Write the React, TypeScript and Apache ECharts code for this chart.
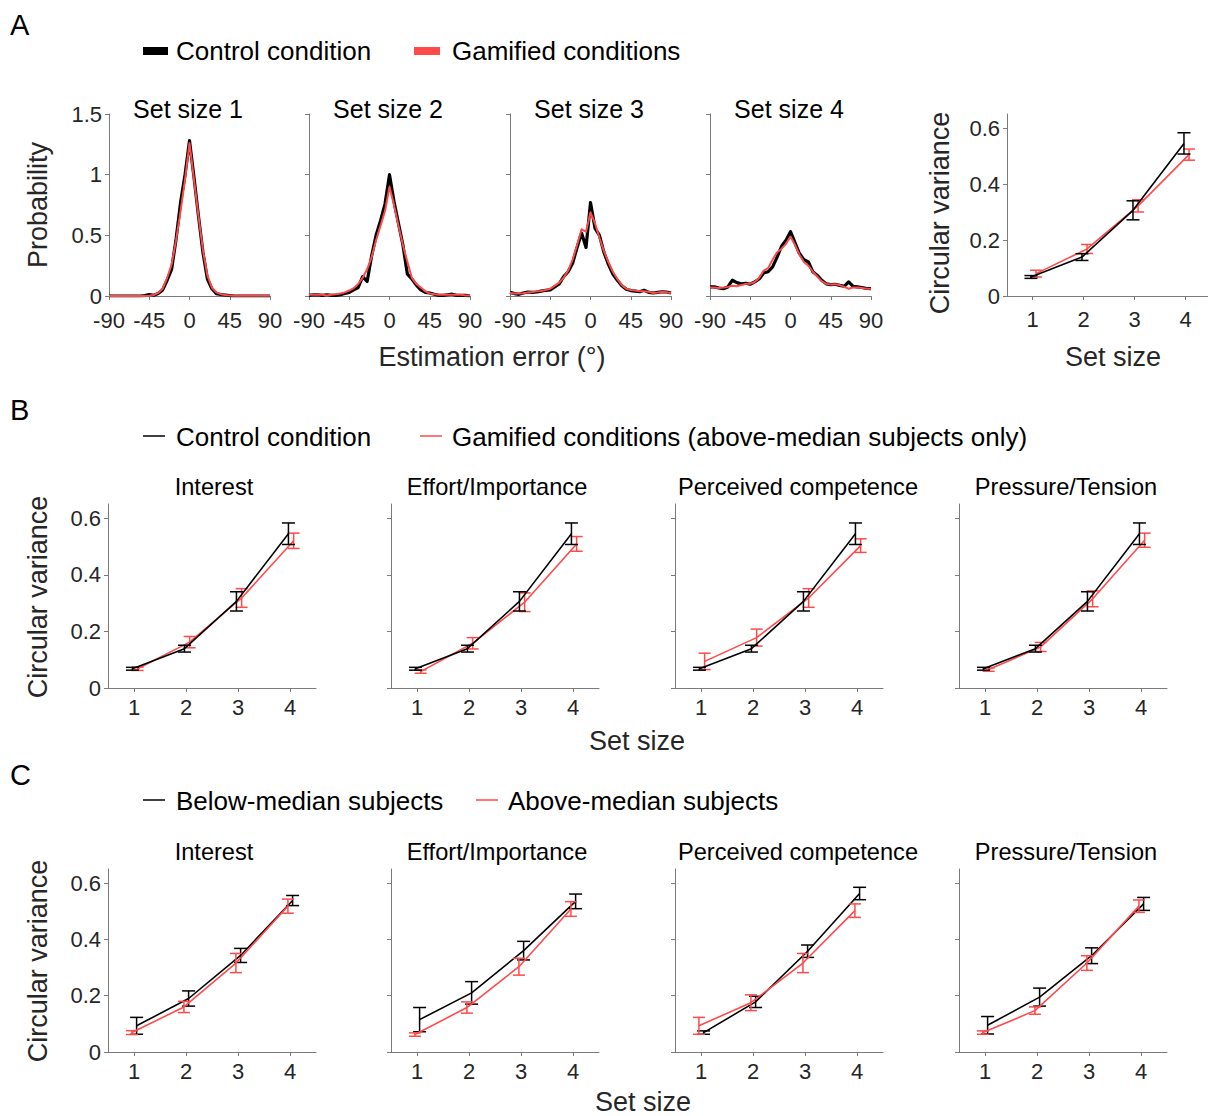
import React, { useEffect, useRef } from 'react';
import * as echarts from 'echarts';

// ---------------- DATA ----------------
const histX = [-90, -85, -80, -75, -70, -65, -60, -55, -50, -45, -40, -35, -30, -25, -20, -15, -10, -5, 0, 5, 10, 15, 20, 25, 30, 35, 40, 45, 50, 55, 60, 65, 70, 75, 80, 85, 90];
const histTicks = [-90, -45, 0, 45, 90];

const histControl1 = [0, 0, 0, 0, 0, 0, 0, 0, 0.003, 0.012, 0.006, 0.02, 0.05, 0.13, 0.22, 0.47, 0.77, 1.0, 1.28, 0.98, 0.66, 0.36, 0.14, 0.06, 0.02, 0.012, 0.008, 0.003, 0, 0, 0, 0, 0, 0, 0, 0, 0];
const histGamified1 = [0, 0, 0, 0, 0, 0, 0, 0, 0, 0.002, 0.008, 0.025, 0.06, 0.15, 0.26, 0.46, 0.7, 0.96, 1.26, 0.96, 0.66, 0.38, 0.17, 0.07, 0.03, 0.015, 0.008, 0.004, 0.003, 0.002, 0.002, 0.002, 0.002, 0.002, 0.003, 0.003, 0.002];

const histControl2 = [0.005, 0.01, 0.01, 0.005, 0.01, 0.005, 0.005, 0.01, 0.02, 0.03, 0.05, 0.07, 0.16, 0.12, 0.33, 0.5, 0.62, 0.76, 1.0, 0.78, 0.6, 0.42, 0.18, 0.14, 0.09, 0.05, 0.03, 0.025, 0.015, 0.005, 0.005, 0.01, 0.015, 0.005, 0.005, 0.005, 0];
const histGamified2 = [0.01, 0.01, 0.01, 0.01, 0.005, 0.01, 0.015, 0.02, 0.03, 0.045, 0.065, 0.1, 0.15, 0.22, 0.32, 0.46, 0.58, 0.7, 0.9, 0.75, 0.58, 0.42, 0.28, 0.15, 0.1, 0.07, 0.04, 0.02, 0.015, 0.01, 0.01, 0.01, 0.01, 0.01, 0.01, 0.005, 0.005];

const histControl3 = [0.03, 0.02, 0.014, 0.025, 0.033, 0.03, 0.033, 0.04, 0.047, 0.05, 0.075, 0.1, 0.16, 0.2, 0.27, 0.4, 0.52, 0.4, 0.77, 0.56, 0.5, 0.36, 0.26, 0.18, 0.13, 0.085, 0.055, 0.045, 0.04, 0.035, 0.047, 0.03, 0.025, 0.03, 0.035, 0.033, 0.025];
const histGamified3 = [0.025, 0.02, 0.02, 0.022, 0.03, 0.033, 0.04, 0.042, 0.05, 0.06, 0.085, 0.11, 0.15, 0.21, 0.3, 0.42, 0.55, 0.53, 0.69, 0.6, 0.48, 0.37, 0.28, 0.2, 0.14, 0.09, 0.06, 0.05, 0.045, 0.04, 0.04, 0.035, 0.025, 0.028, 0.032, 0.03, 0.025];

const histControl4 = [0.075, 0.075, 0.066, 0.06, 0.075, 0.13, 0.11, 0.1, 0.105, 0.097, 0.116, 0.14, 0.19, 0.2, 0.24, 0.32, 0.41, 0.46, 0.53, 0.44, 0.35, 0.3, 0.28, 0.2, 0.17, 0.13, 0.1, 0.094, 0.097, 0.088, 0.08, 0.116, 0.08, 0.075, 0.07, 0.062, 0.06];
const histGamified4 = [0.07, 0.07, 0.066, 0.07, 0.075, 0.085, 0.08, 0.09, 0.1, 0.1, 0.115, 0.15, 0.21, 0.23, 0.3, 0.36, 0.39, 0.43, 0.49, 0.42, 0.34, 0.28, 0.25, 0.2, 0.16, 0.12, 0.1, 0.095, 0.097, 0.09, 0.075, 0.06, 0.07, 0.07, 0.065, 0.06, 0.06];

const setSizes = [1, 2, 3, 4];
const varianceTicks = [0, 0.2, 0.4, 0.6];
const subscales = ['Interest', 'Effort/Importance', 'Perceived competence', 'Pressure/Tension'];

// Panel A (right) & B: control condition
const controlMean = [0.068, 0.139, 0.306, 0.545];
const controlErr = [0.005, 0.012, 0.034, 0.038];
// Panel A (right): gamified conditions
const gamifiedMean = [0.08, 0.168, 0.322, 0.505];
const gamifiedErr = [0.012, 0.016, 0.022, 0.02];

// Panel B: gamified, above-median subjects only
const bInterestMean = [0.068, 0.162, 0.318, 0.52];
const bInterestErr = [0.006, 0.02, 0.033, 0.027];
const bEffortMean = [0.058, 0.158, 0.303, 0.509];
const bEffortErr = [0.006, 0.02, 0.033, 0.026];
const bCompetenceMean = [0.094, 0.178, 0.318, 0.503];
const bCompetenceErr = [0.029, 0.03, 0.033, 0.024];
const bPressureMean = [0.065, 0.145, 0.315, 0.522];
const bPressureErr = [0.006, 0.016, 0.028, 0.025];

// Panel C: below-median vs above-median
const cInterestBelowMean = [0.093, 0.19, 0.343, 0.538];
const cInterestBelowErr = [0.03, 0.027, 0.025, 0.018];
const cInterestAboveMean = [0.069, 0.16, 0.316, 0.518];
const cInterestAboveErr = [0.007, 0.02, 0.034, 0.025];
const cEffortBelowMean = [0.115, 0.21, 0.36, 0.535];
const cEffortBelowErr = [0.043, 0.04, 0.033, 0.026];
const cEffortAboveMean = [0.062, 0.158, 0.303, 0.508];
const cEffortAboveErr = [0.006, 0.02, 0.03, 0.026];
const cCompetenceBelowMean = [0.069, 0.178, 0.358, 0.563];
const cCompetenceBelowErr = [0.006, 0.02, 0.022, 0.022];
const cCompetenceAboveMean = [0.093, 0.175, 0.316, 0.502];
const cCompetenceAboveErr = [0.03, 0.028, 0.034, 0.024];
const cPressureBelowMean = [0.095, 0.195, 0.342, 0.526];
const cPressureBelowErr = [0.031, 0.032, 0.028, 0.023];
const cPressureAboveMean = [0.069, 0.147, 0.316, 0.518];
const cPressureAboveErr = [0.006, 0.013, 0.026, 0.022];

// ---------------- STYLE ----------------
const FONT = '"Liberation Sans", Arial, Helvetica, sans-serif';
const AX = '#7a7a7a';
const TXT = '#262626';
const RED = '#ff4a4a';
const BLACK = '#000000';

function buildOption() {
  const grids: any[] = [];
  const xAxes: any[] = [];
  const yAxes: any[] = [];
  const series: any[] = [];
  const graphics: any[] = [];

  const axisLine = { show: true, onZero: false, lineStyle: { color: AX, width: 1 } };
  const tickStyle = { color: AX, width: 1 };

  const addGrid = (left: number, top: number, width: number, height: number) => {
    grids.push({ left, top, width, height, containLabel: false, outerBoundsMode: 'none' });
    return grids.length - 1;
  };

  const text = (s: string, x: number, y: number, size: number, fill: string, align = 'center', rot = 0) => {
    graphics.push({
      type: 'text', x, y, rotation: rot, silent: true,
      style: { text: s, fontSize: size, fontFamily: FONT, fill, align, verticalAlign: 'middle' },
    });
  };

  // ---- Panel A histograms ----
  const histLefts = [109, 309, 510, 710];
  const histCtrl = [histControl1, histControl2, histControl3, histControl4];
  const histGam = [histGamified1, histGamified2, histGamified3, histGamified4];
  histLefts.forEach((left, i) => {
    const g = addGrid(left, 114, 161, 182);
    xAxes.push({
      type: 'value', gridIndex: g, min: -90, max: 90, interval: 45,
      axisLine, axisTick: { show: true, length: 4, lineStyle: tickStyle },
      axisLabel: { show: true, fontSize: 22, color: TXT, fontFamily: FONT, margin: 13, customValues: histTicks },
      splitLine: { show: false },
    });
    yAxes.push({
      type: 'value', gridIndex: g, min: 0, max: 1.5, interval: 0.5,
      axisLine, axisTick: { show: true, length: 4, lineStyle: tickStyle },
      axisLabel: { show: i === 0, fontSize: 22, color: TXT, fontFamily: FONT, margin: 7 },
      splitLine: { show: false },
    });
    series.push({
      type: 'line', xAxisIndex: g, yAxisIndex: g, symbol: 'none', silent: true, z: 2,
      data: histX.map((x, k) => [x, histCtrl[i][k]]),
      lineStyle: { color: BLACK, width: 3.2, join: 'round' }, itemStyle: { color: BLACK },
    });
    series.push({
      type: 'line', xAxisIndex: g, yAxisIndex: g, symbol: 'none', silent: true, z: 3,
      data: histX.map((x, k) => [x, histGam[i][k]]),
      lineStyle: { color: RED, width: 2, join: 'round' }, itemStyle: { color: RED },
    });
    text('Set size ' + (i + 1), left + 79, 109, 25, BLACK);
  });

  // helpers for set-size plots
  const errRender = (color: string, hw: number) => (params: any, api: any) => {
    const x = api.value(0);
    const lo = api.coord([x, api.value(1)]);
    const hi = api.coord([x, api.value(2)]);
    const st = { stroke: color, lineWidth: 1.5 };
    return {
      type: 'group',
      children: [
        { type: 'line', shape: { x1: lo[0], y1: lo[1], x2: hi[0], y2: hi[1] }, style: st },
        { type: 'line', shape: { x1: lo[0] - hw, y1: lo[1], x2: lo[0] + hw, y2: lo[1] }, style: st },
        { type: 'line', shape: { x1: hi[0] - hw, y1: hi[1], x2: hi[0] + hw, y2: hi[1] }, style: st },
      ],
    };
  };

  const addSetSizeGrid = (left: number, top: number, width: number, height: number, showY: boolean, xMargin: number) => {
    const g = addGrid(left, top, width, height);
    xAxes.push({
      type: 'value', gridIndex: g, min: 0.5, max: 4.5,
      axisLine,
      axisTick: { show: true, length: 4, lineStyle: tickStyle, customValues: setSizes },
      axisLabel: { show: true, fontSize: 22, color: TXT, fontFamily: FONT, margin: xMargin, customValues: setSizes },
      splitLine: { show: false },
    });
    yAxes.push({
      type: 'value', gridIndex: g, min: 0, max: 0.65,
      axisLine,
      axisTick: { show: true, length: 4, lineStyle: tickStyle, customValues: varianceTicks },
      axisLabel: { show: showY, fontSize: 22, color: TXT, fontFamily: FONT, margin: 7, customValues: varianceTicks },
      splitLine: { show: false },
    });
    return g;
  };

  const addCurve = (g: number, mean: number[], err: number[], color: string, offset: number, z: number, hw: number) => {
    series.push({
      type: 'line', xAxisIndex: g, yAxisIndex: g, symbol: 'none', silent: true, z,
      data: setSizes.map((s, k) => [s + offset, mean[k]]),
      lineStyle: { color, width: 1.6 }, itemStyle: { color },
    });
    series.push({
      type: 'custom', xAxisIndex: g, yAxisIndex: g, silent: true, z,
      data: setSizes.map((s, k) => [s + offset, mean[k] - err[k], mean[k] + err[k]]),
      encode: { x: 0, y: [1, 2] },
      renderItem: errRender(color, hw),
    });
  };

  // ---- Panel A right ----
  {
    const g = addSetSizeGrid(1007, 114, 204, 182, true, 12);
    addCurve(g, gamifiedMean, gamifiedErr, RED, 0.07, 3, 6);
    addCurve(g, controlMean, controlErr, BLACK, -0.03, 4, 6.5);
  }

  // ---- Panel B ----
  const rowLefts = [108, 391, 675, 959];
  const titleCenters = [214, 497, 798, 1066];
  const bMeans = [bInterestMean, bEffortMean, bCompetenceMean, bPressureMean];
  const bErrs = [bInterestErr, bEffortErr, bCompetenceErr, bPressureErr];
  rowLefts.forEach((left, i) => {
    const g = addSetSizeGrid(left, 504, 208, 184, i === 0, 8);
    addCurve(g, bMeans[i], bErrs[i], RED, 0.07, 3, 6);
    addCurve(g, controlMean, controlErr, BLACK, -0.03, 4, 6.5);
    text(subscales[i], titleCenters[i], 487, 23.6, BLACK);
  });

  // ---- Panel C ----
  const cBelowM = [cInterestBelowMean, cEffortBelowMean, cCompetenceBelowMean, cPressureBelowMean];
  const cBelowE = [cInterestBelowErr, cEffortBelowErr, cCompetenceBelowErr, cPressureBelowErr];
  const cAboveM = [cInterestAboveMean, cEffortAboveMean, cCompetenceAboveMean, cPressureAboveMean];
  const cAboveE = [cInterestAboveErr, cEffortAboveErr, cCompetenceAboveErr, cPressureAboveErr];
  rowLefts.forEach((left, i) => {
    const g = addSetSizeGrid(left, 869, 208, 183, i === 0, 8);
    addCurve(g, cBelowM[i], cBelowE[i], BLACK, 0.05, 3, 6.5);
    addCurve(g, cAboveM[i], cAboveE[i], RED, -0.04, 4, 6);
    text(subscales[i], titleCenters[i], 852, 23.6, BLACK);
  });

  // ---- Panel letters ----
  text('A', 10, 25, 29, BLACK, 'left');
  text('B', 10, 410, 29, BLACK, 'left');
  text('C', 10, 775, 29, BLACK, 'left');

  // ---- Legends ----
  graphics.push({ type: 'rect', silent: true, shape: { x: 143, y: 47, width: 25, height: 8 }, style: { fill: BLACK } });
  text('Control condition', 176, 51, 26, BLACK, 'left');
  graphics.push({ type: 'rect', silent: true, shape: { x: 414, y: 47, width: 26, height: 8 }, style: { fill: RED } });
  text('Gamified conditions', 452, 51, 26, BLACK, 'left');

  graphics.push({ type: 'line', silent: true, shape: { x1: 143, y1: 436, x2: 165, y2: 436 }, style: { stroke: BLACK, lineWidth: 1.5 } });
  text('Control condition', 176, 437, 26, BLACK, 'left');
  graphics.push({ type: 'line', silent: true, shape: { x1: 420, y1: 436, x2: 442, y2: 436 }, style: { stroke: RED, lineWidth: 1.5 } });
  text('Gamified conditions (above-median subjects only)', 452, 437, 26, BLACK, 'left');

  graphics.push({ type: 'line', silent: true, shape: { x1: 143, y1: 800, x2: 165, y2: 800 }, style: { stroke: BLACK, lineWidth: 1.5 } });
  text('Below-median subjects', 176, 801, 26, BLACK, 'left');
  graphics.push({ type: 'line', silent: true, shape: { x1: 476, y1: 800, x2: 498, y2: 800 }, style: { stroke: RED, lineWidth: 1.5 } });
  text('Above-median subjects', 508, 801, 26, BLACK, 'left');

  // ---- Axis titles ----
  text('Probability', 38, 205, 27, TXT, 'center', Math.PI / 2);
  text('Estimation error (°)', 492, 357, 27, TXT);
  text('Circular variance', 940, 213, 27, TXT, 'center', Math.PI / 2);
  text('Set size', 1113, 357, 27, TXT);
  text('Circular variance', 38, 597, 27, TXT, 'center', Math.PI / 2);
  text('Set size', 637, 741, 27, TXT);
  text('Circular variance', 38, 961, 27, TXT, 'center', Math.PI / 2);
  text('Set size', 643, 1102, 27, TXT);

  return {
    animation: false,
    backgroundColor: '#ffffff',
    textStyle: { fontFamily: FONT },
    grid: grids,
    xAxis: xAxes,
    yAxis: yAxes,
    series,
    graphic: graphics,
  };
}

export default function App() {
  const ref = useRef<HTMLDivElement>(null);
  useEffect(() => {
    if (!ref.current) return;
    const chart = echarts.init(ref.current, undefined, { renderer: 'svg' });
    chart.setOption(buildOption() as any);
    return () => chart.dispose();
  }, []);
  return (
    <div
      ref={ref}
      style={{ position: 'absolute', left: 0, top: 0, width: 1208, height: 1116, background: '#fff' }}
    />
  );
}
